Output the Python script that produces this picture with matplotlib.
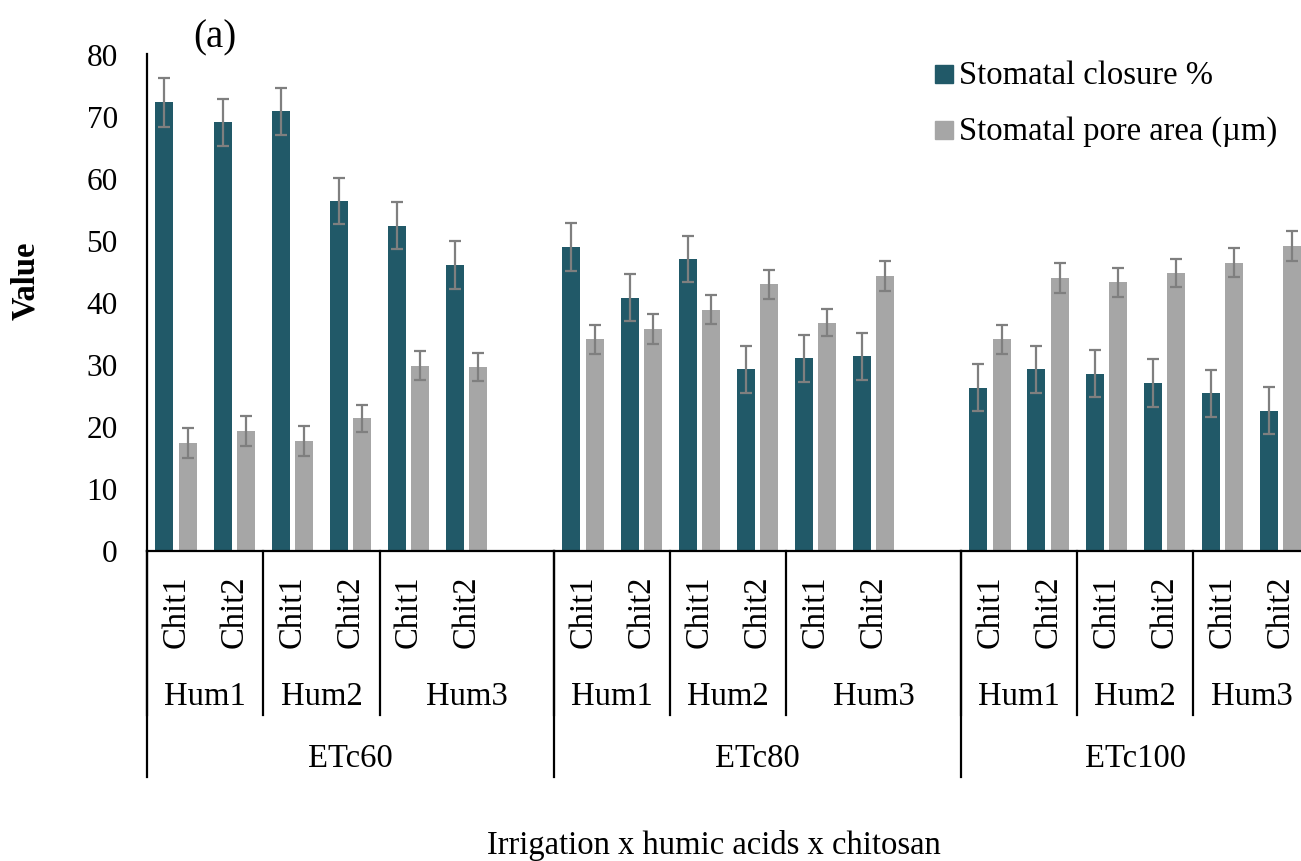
import matplotlib.pyplot as plt
from matplotlib.patches import Rectangle
import numpy as np

plt.rcParams['font.family'] = ['Liberation Serif', 'DejaVu Serif']

etc_levels = ['ETc60', 'ETc80', 'ETc100']
hum_levels = ['Hum1', 'Hum2', 'Hum3']
chit_levels = ['Chit1', 'Chit2']

closure = [72.2, 69.0, 70.8, 56.3, 52.3, 46.0,
           48.9, 40.7, 46.9, 29.2, 31.0, 31.3,
           26.2, 29.2, 28.5, 27.0, 25.3, 22.5]
closure_err = [3.9, 3.8, 3.8, 3.7, 3.8, 3.8,
               3.8, 3.8, 3.7, 3.8, 3.8, 3.8,
               3.8, 3.8, 3.8, 3.8, 3.8, 3.8]
pore = [17.3, 19.3, 17.6, 21.3, 29.8, 29.6,
        34.0, 35.7, 38.8, 42.9, 36.7, 44.2,
        34.0, 43.9, 43.2, 44.7, 46.4, 49.1]
pore_err = [2.4, 2.4, 2.4, 2.2, 2.3, 2.3,
            2.3, 2.4, 2.3, 2.3, 2.2, 2.4,
            2.3, 2.4, 2.3, 2.3, 2.4, 2.4]
series_names = ['Stomatal closure %', 'Stomatal pore area (µm)']

teal = '#215968'
grey = '#a6a6a6'
errc = '#7f7f7f'

# slot positions: 7 slots per ETc block (6 bars + 1 gap)
pos = []
for e in range(3):
    for h in range(3):
        for c in range(2):
            pos.append(e * 7 + h * 2 + c + 0.5)
pos = np.array(pos)

W, H = 1301, 862
fig = plt.figure(figsize=(W / 100, H / 100), dpi=100)
x0, x1 = 147, 1301
ytop, ybot = 55, 551.5
ax = fig.add_axes([x0 / W, 1 - ybot / H, (x1 - x0) / W, (ybot - ytop) / H])

bw = 0.31
ekw = dict(ecolor=errc, elinewidth=1.6, capsize=4.5, capthick=1.6)
ax.bar(pos - 0.2, closure, bw, color=teal, yerr=closure_err, error_kw=ekw)
ax.bar(pos + 0.2, pore, bw, color=grey, yerr=pore_err, error_kw=ekw)

ax.set_xlim(0, 19.85)
ax.set_ylim(0, 80)
ax.set_yticks(np.arange(0, 81, 10))
ax.tick_params(axis='y', length=0, labelsize=22.5, pad=21)
ax.set_xticks([])
for s in ['top', 'right']:
    ax.spines[s].set_visible(False)
ax.spines['left'].set_linewidth(1.6)
ax.spines['bottom'].set_linewidth(1.6)

tr = ax.get_xaxis_transform()
ah = ybot - ytop


def fy(py):
    return -(py - ybot) / ah


fs = 23.5
# chit labels
for i, p in enumerate(pos):
    ax.text(p, fy(612), chit_levels[i % 2], rotation=90, ha='center', va='center',
            fontsize=fs, transform=tr)

# hum level
hum_ranges = [(0, 2), (2, 4), (4, 7), (7, 9), (9, 11), (11, 14), (14, 16), (16, 18), (18, 20)]
for k, (a, b) in enumerate(hum_ranges):
    ax.text((a + b) / 2, fy(697), hum_levels[k % 3], ha='center', va='center',
            fontsize=fs, transform=tr)
    ax.plot([a, a], [0, fy(716)], color='black', lw=1.6, transform=tr, clip_on=False)

# etc level
etc_ranges = [(0, 7), (7, 14), (14, 20)]
for k, (a, b) in enumerate(etc_ranges):
    ax.text((a + b) / 2, fy(759), etc_levels[k], ha='center', va='center',
            fontsize=fs, transform=tr)
    ax.plot([a, a], [0, fy(778)], color='black', lw=1.6, transform=tr, clip_on=False)

fig.text(26 / W, 1 - 281 / H, 'Value', rotation=90, ha='center', va='center',
         fontsize=fs, fontweight='bold')
fig.text(714 / W, 1 - 846 / H, 'Irrigation x humic acids x chitosan',
         ha='center', va='center', fontsize=fs)
fig.text(215 / W, 1 - 38 / H, '(a)', ha='center', va='center', fontsize=28)

# legend
for k, (name, col) in enumerate(zip(series_names, [teal, grey])):
    base = 84 + k * 56
    fig.patches.append(Rectangle((935 / W, 1 - base / H), 18 / W, 18 / H,
                                 transform=fig.transFigure, color=col))
    fig.text(959 / W, 1 - base / H, name, ha='left', va='baseline', fontsize=fs)

fig.savefig('out.png', dpi=100)
